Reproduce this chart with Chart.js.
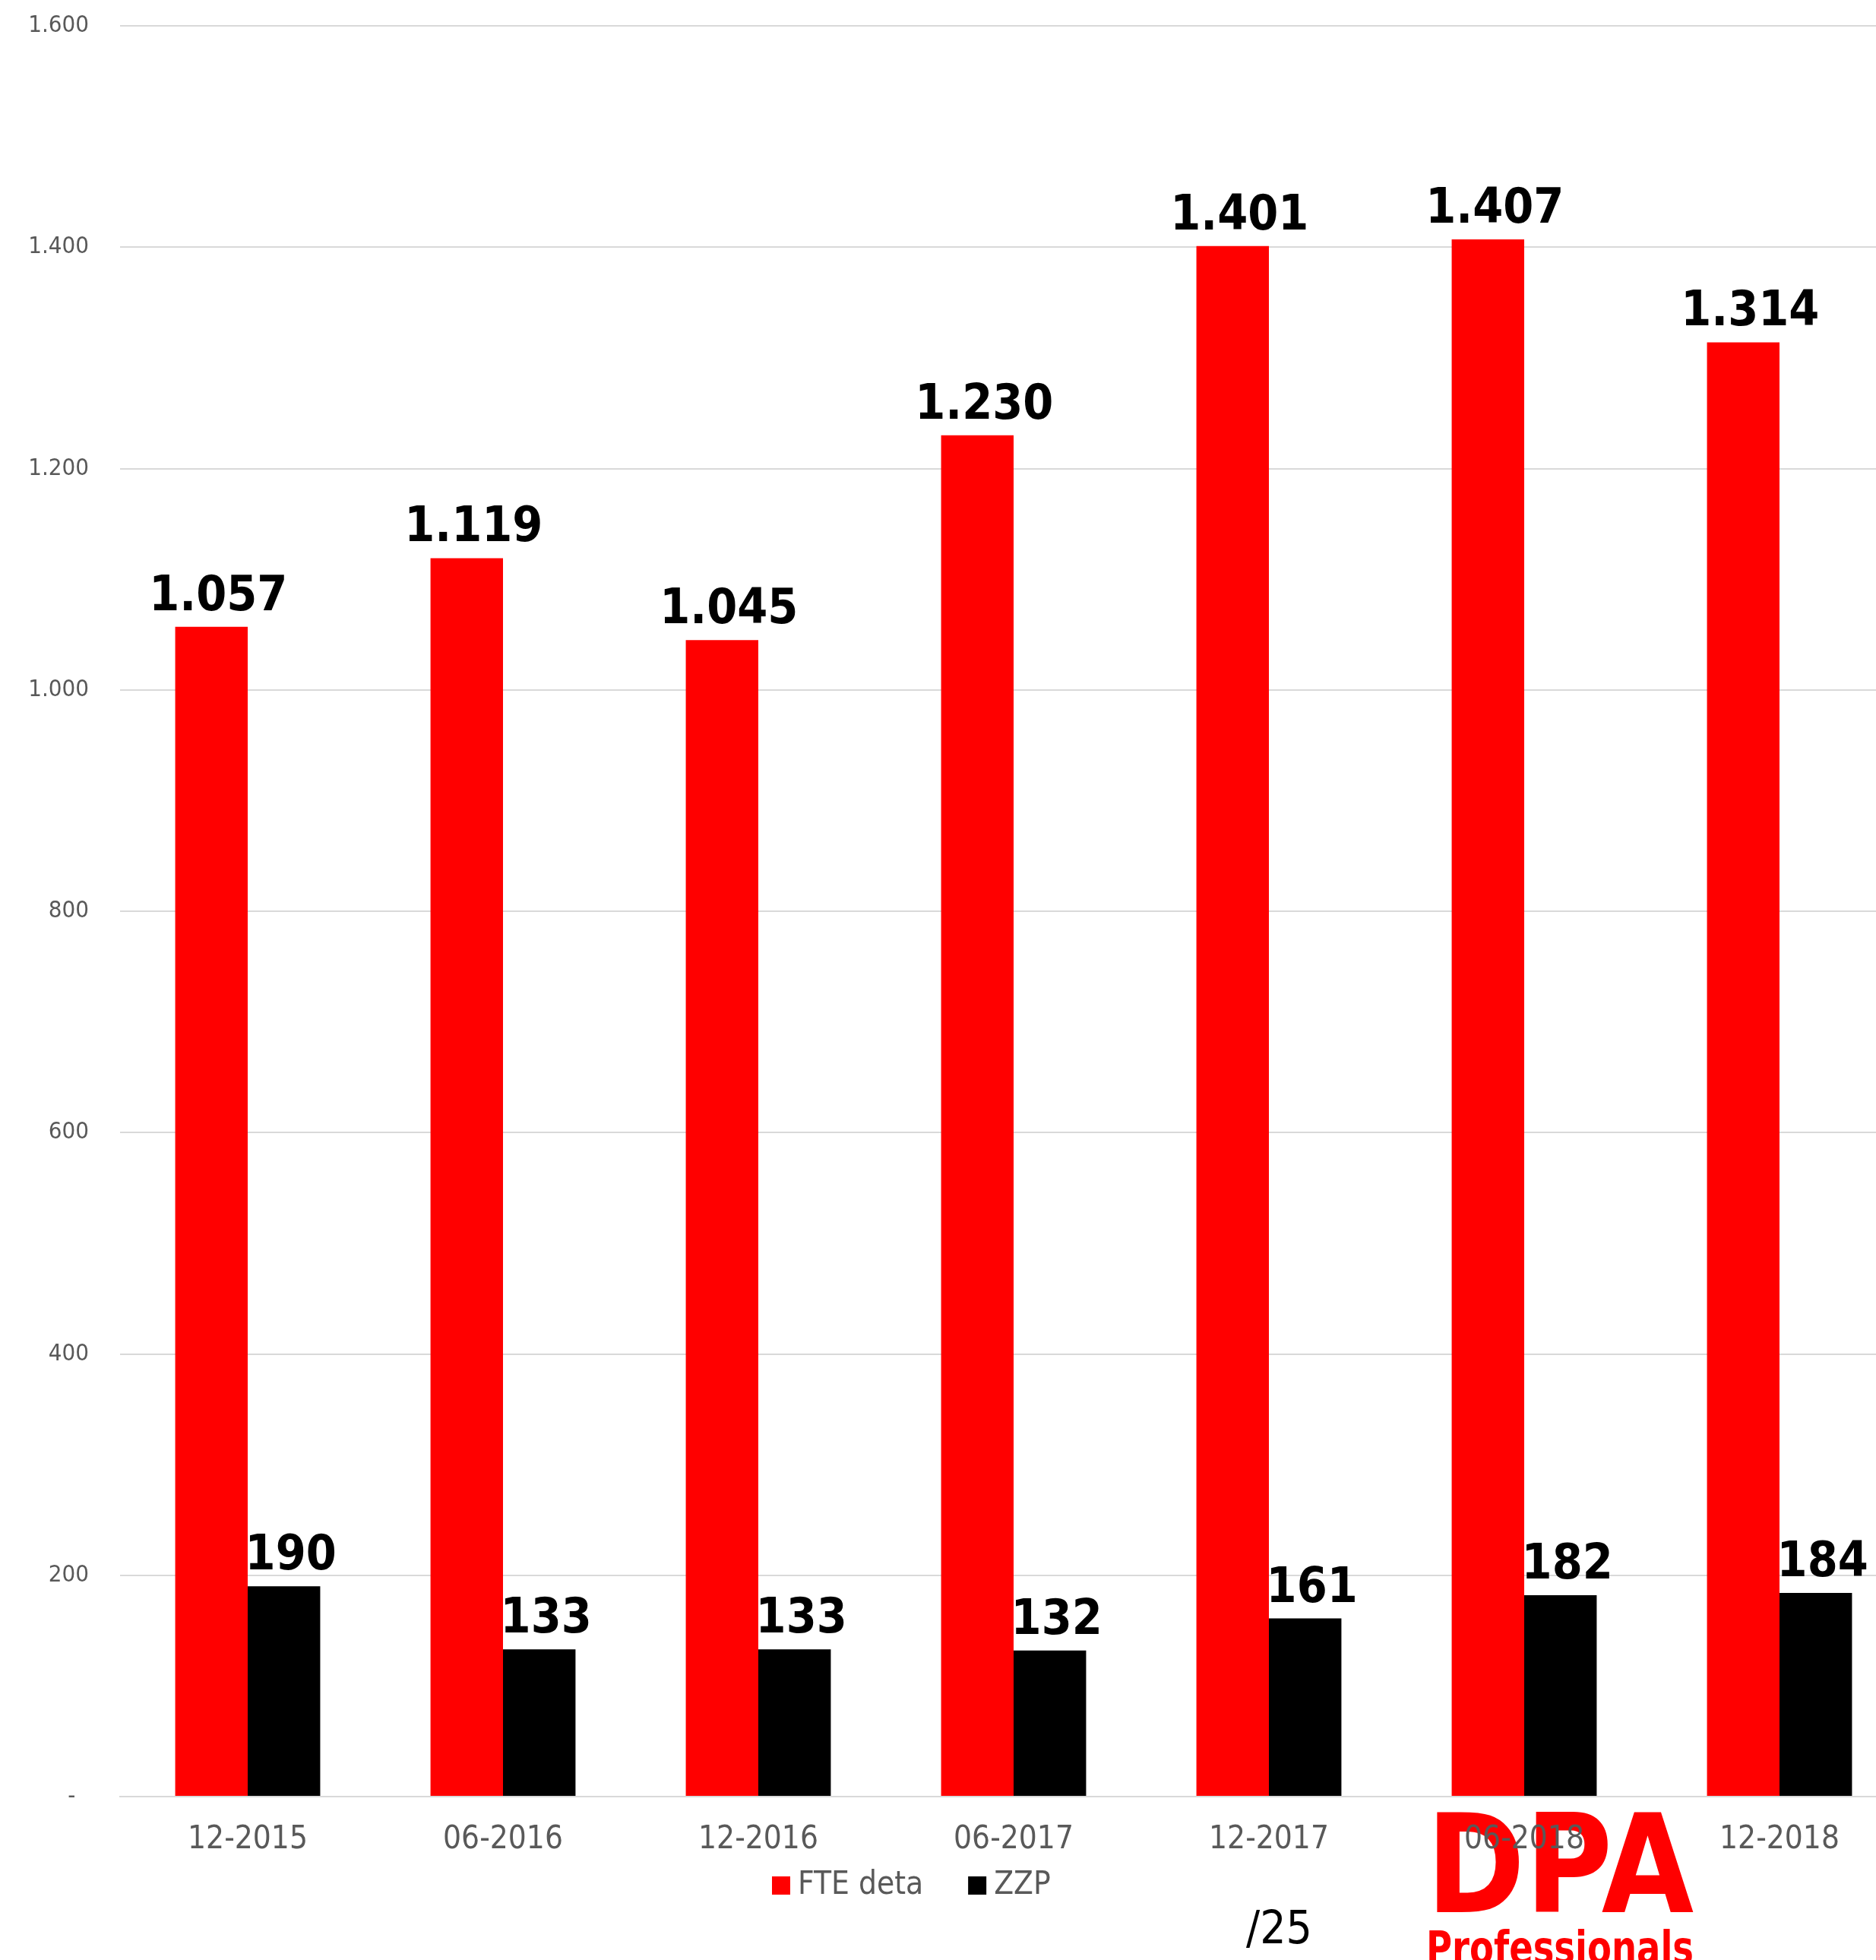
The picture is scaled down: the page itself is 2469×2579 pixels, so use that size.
<!DOCTYPE html>
<html lang="nl">
<head>
    <meta charset="UTF-8">
    <title>FTE deta / ZZP</title>
    <script src="https://cdn.jsdelivr.net/npm/chart.js"></script>
    <style>
        body {
            margin: 0;
            padding: 0;
            background: #ffffff;
            overflow: hidden;
        }
        #wrap {
            position: relative;
            width: 2510px;
            height: 2579px;
        }
    </style>
</head>
<body>
    <div id="wrap">
        <canvas id="fteChart" width="2510" height="2579"></canvas>
    </div>

    <script>
        // data
        const categories = ['12-2015', '06-2016', '12-2016', '06-2017', '12-2017', '06-2018', '12-2018'];
        const fteValues = [1057, 1119, 1045, 1230, 1401, 1407, 1314];
        const zzpValues = [190, 133, 133, 132, 161, 182, 184];
        const seriesNames = ['FTE deta', 'ZZP'];
        const seriesColors = ['#ff0000', '#000000'];
        const yTickValues = [0, 200, 400, 600, 800, 1000, 1200, 1400, 1600];

        const GRAY = '#595959';
        const COND = '"DejaVu Sans Condensed", "DejaVu Sans", sans-serif';

        function fmt(v) {
            if (v === 0) return '-  ';
            return String(v).replace(/\B(?=(\d{3})+(?!\d))/g, '.');
        }

        // draw text squeezed/stretched to a given width
        function fitText(ctx, text, x, y, width) {
            const w = ctx.measureText(text).width;
            ctx.save();
            ctx.translate(x, y);
            ctx.scale(width / w, 1);
            ctx.fillText(text, 0, 0);
            ctx.restore();
        }

        // logo + page number, behind the chart
        const backdrop = {
            id: 'backdrop',
            beforeDraw(chart) {
                const ctx = chart.ctx;
                ctx.save();
                ctx.textAlign = 'left';
                ctx.textBaseline = 'alphabetic';
                ctx.fillStyle = '#ff0000';
                ctx.font = 'bold 180px "DejaVu Sans", sans-serif';
                fitText(ctx, 'DPA', 1877, 2516, 352);
                ctx.font = 'bold 60px "DejaVu Sans", sans-serif';
                fitText(ctx, 'Professionals', 1877, 2584, 352);
                ctx.fillStyle = '#000000';
                ctx.font = '60px ' + COND;
                ctx.fillText('/25', 1640, 2557);
                ctx.restore();
            }
        };

        // value labels above bars + legend
        const labelsAndLegend = {
            id: 'labelsAndLegend',
            afterDatasetsDraw(chart) {
                const ctx = chart.ctx;
                ctx.save();
                ctx.fillStyle = '#000000';
                ctx.font = 'bold 64px ' + COND;
                ctx.textAlign = 'center';
                ctx.textBaseline = 'alphabetic';
                chart.data.datasets.forEach((ds, i) => {
                    const meta = chart.getDatasetMeta(i);
                    meta.data.forEach((bar, j) => {
                        ctx.fillText(fmt(ds.data[j]), bar.x + 9, bar.y - 22);
                    });
                });

                // legend
                ctx.font = '42px ' + COND;
                ctx.textAlign = 'left';
                ctx.textBaseline = 'middle';
                let x = 1016;
                const cy = 2481;
                chart.data.datasets.forEach(ds => {
                    ctx.fillStyle = ds.backgroundColor;
                    ctx.fillRect(x, cy - 12, 24, 24);
                    ctx.fillStyle = GRAY;
                    ctx.fillText(ds.label, x + 34, cy);
                    x += 34 + ctx.measureText(ds.label).width + 59;
                });
                ctx.restore();
            }
        };

        const ctx = document.getElementById('fteChart').getContext('2d');
        new Chart(ctx, {
            type: 'bar',
            data: {
                labels: categories,
                datasets: [
                    { label: seriesNames[0], data: fteValues, backgroundColor: seriesColors[0] },
                    { label: seriesNames[1], data: zzpValues, backgroundColor: seriesColors[1] }
                ]
            },
            options: {
                responsive: false,
                animation: false,
                devicePixelRatio: 1,
                layout: { padding: { top: 34, left: 0, right: 0, bottom: 0 } },
                datasets: {
                    bar: { barPercentage: 1, categoryPercentage: 0.568 }
                },
                plugins: {
                    legend: { display: false },
                    tooltip: { enabled: false }
                },
                scales: {
                    x: {
                        grid: { display: false, drawTicks: false },
                        border: { display: true, color: '#d9d9d9', width: 2 },
                        ticks: {
                            color: GRAY,
                            font: { family: COND, size: 42 },
                            padding: 32,
                            maxRotation: 0
                        },
                        afterFit(scale) { scale.height = 2579 - 2364; }
                    },
                    y: {
                        min: 0,
                        max: 1600,
                        afterBuildTicks(scale) {
                            scale.ticks = yTickValues.map(v => ({ value: v }));
                        },
                        grid: { color: '#d9d9d9', lineWidth: 2, drawTicks: false },
                        border: { display: false },
                        ticks: {
                            color: GRAY,
                            font: { family: COND, size: 31 },
                            padding: 41,
                            callback: v => fmt(v)
                        },
                        afterFit(scale) {
                            scale.width = 158;
                            scale.paddingTop = 0;
                            scale.paddingBottom = 0;
                        }
                    }
                }
            },
            plugins: [backdrop, labelsAndLegend]
        });
    </script>
</body>
</html>
